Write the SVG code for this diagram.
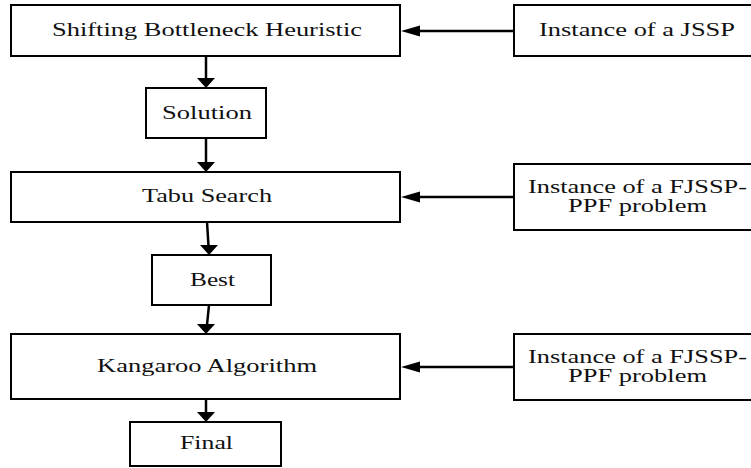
<svg xmlns="http://www.w3.org/2000/svg" width="751" height="468" viewBox="0 0 751 468">
<style>
.box{fill:#fff;stroke:#000;stroke-width:2}
.t{font-family:"Liberation Serif","DejaVu Serif",serif;font-size:18px;fill:#111}
.ln{stroke:#000;stroke-width:2.5;fill:none}
.hd{fill:#000}
</style>
<rect width="751" height="468" fill="#fff"/>
<g id="connectors">
<line class="ln" x1="206" y1="56" x2="206" y2="79"/>
<polygon class="hd" points="197,78 215,78 206,88"/>
<line class="ln" x1="206" y1="138" x2="206" y2="163"/>
<polygon class="hd" points="197,162 215,162 206,172"/>
<line class="ln" x1="207" y1="222" x2="208.5" y2="246"/>
<polygon class="hd" points="200,245 218,245 209,255"/>
<line class="ln" x1="209" y1="305" x2="207" y2="325"/>
<polygon class="hd" points="197,324 215,324 206,334"/>
<line class="ln" x1="206" y1="399" x2="206" y2="413"/>
<polygon class="hd" points="197,412 215,412 206,422"/>
<line class="ln" x1="514" y1="31" x2="418" y2="31"/>
<polygon class="hd" points="420,25.5 420,36.5 401,31"/>
<line class="ln" x1="514" y1="197" x2="418" y2="197"/>
<polygon class="hd" points="420,191.5 420,202.5 401,197"/>
<line class="ln" x1="514" y1="367" x2="418" y2="367"/>
<polygon class="hd" points="420,361.5 420,372.5 401,367"/>
</g>
<g id="shifting">
<rect class="box" x="11" y="5" width="389" height="51"/>
<text class="t" x="52" y="36" textLength="310" lengthAdjust="spacingAndGlyphs">Shifting Bottleneck Heuristic</text>
</g>
<g id="jssp">
<rect class="box" x="514" y="5" width="250" height="51"/>
<text class="t" x="539" y="36" textLength="196" lengthAdjust="spacingAndGlyphs">Instance of a JSSP</text>
</g>
<g id="solution">
<rect class="box" x="146" y="88" width="120" height="50"/>
<text class="t" x="162" y="119" textLength="90" lengthAdjust="spacingAndGlyphs">Solution</text>
</g>
<g id="tabu">
<rect class="box" x="11" y="172" width="389" height="50"/>
<text class="t" x="142" y="202" textLength="130" lengthAdjust="spacingAndGlyphs">Tabu Search</text>
</g>
<g id="fjssp1">
<rect class="box" x="514" y="164" width="250" height="66"/>
<text class="t" x="528" y="193" textLength="219" lengthAdjust="spacingAndGlyphs">Instance of a FJSSP-</text>
<text class="t" x="568" y="212" textLength="139" lengthAdjust="spacingAndGlyphs">PPF problem</text>
</g>
<g id="best">
<rect class="box" x="152" y="255" width="119" height="50"/>
<text class="t" x="190" y="286" textLength="45" lengthAdjust="spacingAndGlyphs">Best</text>
</g>
<g id="kangaroo">
<rect class="box" x="11" y="334" width="389" height="65"/>
<text class="t" x="97" y="372" textLength="220" lengthAdjust="spacingAndGlyphs">Kangaroo Algorithm</text>
</g>
<g id="fjssp2">
<rect class="box" x="514" y="334" width="250" height="66"/>
<text class="t" x="528" y="363" textLength="219" lengthAdjust="spacingAndGlyphs">Instance of a FJSSP-</text>
<text class="t" x="568" y="382" textLength="139" lengthAdjust="spacingAndGlyphs">PPF problem</text>
</g>
<g id="final">
<rect class="box" x="130" y="422" width="151" height="44"/>
<text class="t" x="180" y="449" textLength="53" lengthAdjust="spacingAndGlyphs">Final</text>
</g>
</svg>
